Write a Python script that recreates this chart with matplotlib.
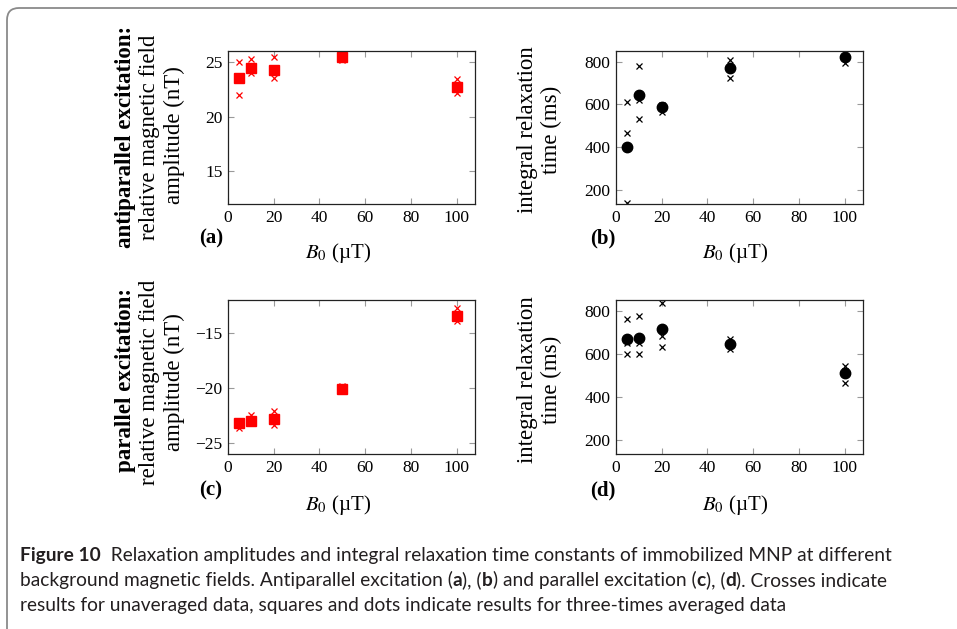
import numpy as np
import matplotlib
matplotlib.use("Agg")
import matplotlib.pyplot as plt
from matplotlib.patches import FancyBboxPatch

plt.rcParams['font.family'] = ['Liberation Serif', 'DejaVu Serif']
plt.rcParams['mathtext.fontset'] = 'stix'

# background field B0 (uT)
B0 = [5, 10, 20, 50, 100]

# (a) antiparallel excitation, amplitude (nT)
amp_anti_avg = [23.5, 24.4, 24.3, 25.45, 22.75]
amp_anti_raw = [[25.0, 22.0, 23.5], [25.25, 23.95, 24.3], [25.45, 23.5, 24.2],
                [25.8, 25.3, 25.2], [23.4, 22.2, 22.6]]
# (b) antiparallel excitation, integral relaxation time (ms)
tau_anti_avg = [400, 645, 588, 770, 820]
tau_anti_raw = [[613, 465, 138], [780, 621, 532], [598, 590, 566],
                [808, 725, 775], [846, 792, 822]]
# (c) parallel excitation, amplitude (nT)
amp_par_avg = [-23.2, -23.0, -22.85, -20.05, -13.45]
amp_par_raw = [[-23.0, -23.3, -23.6], [-22.45, -23.0, -23.2], [-22.1, -22.9, -23.4],
               [-19.8, -20.1, -20.2], [-12.7, -13.5, -13.9]]
# (d) parallel excitation, integral relaxation time (ms)
tau_par_avg = [670, 675, 715, 645, 510]
tau_par_raw = [[763, 649, 597], [777, 649, 597], [836, 683, 629],
               [669, 621, 645], [545, 462, 520]]

W, H = 957, 629
fig = plt.figure(figsize=(W / 100, H / 100), dpi=100)


def add_ax(x0, y0, x1, y1):
    return fig.add_axes([x0 / W, 1 - y1 / H, (x1 - x0) / W, (y1 - y0) / H])


def style(ax, ylim, yticks):
    ax.set_xlim(0, 108)
    ax.set_ylim(*ylim)
    ax.set_xticks([0, 20, 40, 60, 80, 100])
    ax.set_yticks(yticks)
    ax.tick_params(direction='in', length=4, width=0.8, color='#9a9a9a',
                   top=True, right=True, labelsize=12.5, pad=4)
    for s in ax.spines.values():
        s.set_linewidth(0.9)
        s.set_color('#222222')


def scatter(ax, raw, avg, color, marker, ms):
    xs = np.repeat(B0, [len(r) for r in raw])
    ys = np.concatenate(raw)
    ax.plot(xs, ys, ls='none', marker='x', ms=4.5, mew=0.9, color=color)
    ax.plot(B0, avg, ls='none', marker=marker, ms=ms, color=color, mec=color)


ax_a = add_ax(228, 51, 475, 204)
ax_b = add_ax(616, 51, 863, 204)
ax_c = add_ax(228, 300, 475, 454)
ax_d = add_ax(616, 300, 863, 454)

scatter(ax_a, amp_anti_raw, amp_anti_avg, 'red', 's', 7)
scatter(ax_b, tau_anti_raw, tau_anti_avg, 'black', 'o', 7.5)
scatter(ax_c, amp_par_raw, amp_par_avg, 'red', 's', 7)
scatter(ax_d, tau_par_raw, tau_par_avg, 'black', 'o', 7.5)

style(ax_a, (12, 26), [15, 20, 25])
style(ax_b, (133, 850), [200, 400, 600, 800])
style(ax_c, (-26, -12), [-25, -20, -15])
style(ax_d, (133, 850), [200, 400, 600, 800])


def ftext(x, y, s, **kw):
    return fig.text(x / W, 1 - y / H, s, **kw)


lab = dict(rotation=90, ha='center', va='center', size=16.5)
ftext(126, 137, 'antiparallel excitation:', weight='bold', **lab)
ftext(150, 137, 'relative magnetic field', **lab)
ftext(174, 135, 'amplitude (nT)', **lab)
ftext(126, 380, 'parallel excitation:', weight='bold', **lab)
ftext(150, 382, 'relative magnetic field', **lab)
ftext(174, 382, 'amplitude (nT)', **lab)
for yc in (130, 380):
    ftext(527, yc, 'integral relaxation', **lab)
    ftext(551, yc, 'time (ms)', **lab)

for (x, y, s) in [(211, 238, '(a)'), (603, 238, '(b)'), (211, 490, '(c)'), (603, 490, '(d)')]:
    ftext(x, y, s, weight='bold', size=15, ha='center', va='center')
for (x, y) in [(338, 253), (735, 253), (338, 505), (735, 505)]:
    ftext(x, y, r'$B_0$ (µT)', size=15, ha='center', va='center')

# frame round the figure
fig.patches.append(FancyBboxPatch((0.07, -0.5), 10.0, 6.71,
                                  boxstyle='round,pad=0,rounding_size=0.12',
                                  transform=fig.dpi_scale_trans, fill=False,
                                  ec='#8a8a8a', lw=1.3))

# caption, with mixed bold / regular pieces
renderer = fig.canvas.get_renderer()
cap = dict(family=['Lato', 'DejaVu Sans'], size=13.8, color='#231f20', va='baseline')


def rich(x, y, parts):
    for s, bold in parts:
        t = ftext(x, y, s, weight='bold' if bold else 'normal', **cap)
        x += t.get_window_extent(renderer).width


rich(20, 561, [('Figure 10', True),
               ('  Relaxation amplitudes and integral relaxation time constants of immobilized MNP at different', False)])
rich(20, 586, [('background magnetic fields. Antiparallel excitation (', False), ('a', True),
               ('), (', False), ('b', True), (') and parallel excitation (', False), ('c', True),
               ('), (', False), ('d', True), ('). Crosses indicate', False)])
rich(20, 611, [('results for unaveraged data, squares and dots indicate results for three-times averaged data', False)])

fig.savefig('out.png', dpi=100)
